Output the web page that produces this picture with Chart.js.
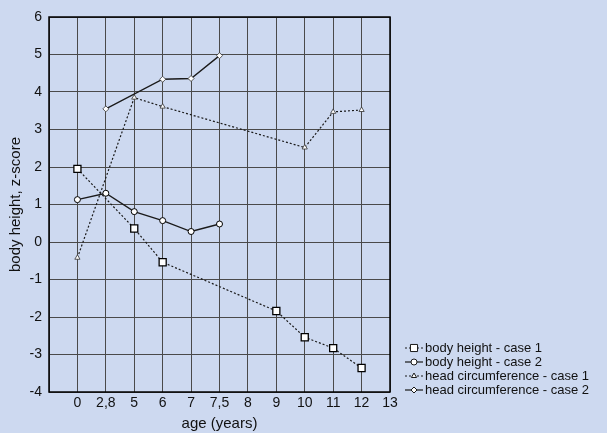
<!DOCTYPE html>
<html>
<head>
<meta charset="utf-8">
<script src="https://cdn.jsdelivr.net/npm/chart.js@4"></script>
<style>
  html, body { margin: 0; padding: 0; background: #cdd9f0; }
  #wrap { width: 607px; height: 433px; position: relative; }
</style>
</head>
<body>
<div id="wrap"><canvas id="zChart"></canvas></div>
<script>
// x axis categories (first slot is the empty left edge)
const ageLabels = ["", "0", "2,8", "5", "6", "7", "7,5", "8", "9", "10", "11", "12", "13"];

const heightCase1Ages = ["0", "5", "6", "9", "10", "11", "12"];
const heightCase1 = [1.95, 0.36, -0.54, -1.84, -2.54, -2.83, -3.36];

const heightCase2Ages = ["0", "2,8", "5", "6", "7", "7,5"];
const heightCase2 = [1.13, 1.30, 0.81, 0.57, 0.28, 0.48];

const headCase1Ages = ["0", "5", "6", "10", "11", "12"];
const headCase1 = [-0.42, 3.85, 3.61, 2.52, 3.47, 3.52];

const headCase2Ages = ["2,8", "6", "7", "7,5"];
const headCase2 = [3.55, 4.34, 4.36, 4.97];

const seriesNames = [
    "body height - case 1",
    "body height - case 2",
    "head circumference - case 1",
    "head circumference - case 2",
];

function pts(ages, vals) {
    return ages.map((a, i) => ({ x: a, y: vals[i] }));
}

const lineColor = "#1a1a1a";
const dotted = [2, 2];

// frame around plot + legend with line and marker
const framePlugin = {
    id: "frame",
    afterDraw(chart) {
        const ctx = chart.ctx;
        const a = chart.chartArea;
        ctx.save();
        ctx.strokeStyle = "#000";
        ctx.lineWidth = 1.5;
        ctx.strokeRect(a.left, a.top, a.right - a.left, a.bottom - a.top);

        ctx.font = "13px 'Liberation Sans', Arial, sans-serif";
        ctx.textBaseline = "middle";
        chart.data.datasets.forEach((ds, i) => {
            const y = 348 + i * 14;
            ctx.strokeStyle = lineColor;
            ctx.lineWidth = 1.2;
            ctx.setLineDash(ds.borderDash || []);
            ctx.beginPath();
            ctx.moveTo(405, y);
            ctx.lineTo(423, y);
            ctx.stroke();
            ctx.setLineDash([]);
            ctx.fillStyle = "#fff";
            ctx.strokeStyle = lineColor;
            ctx.lineWidth = 1;
            Chart.helpers.drawPoint(ctx, {
                pointStyle: ds.pointStyle,
                radius: ds.pointRadius,
                rotation: 0,
                borderWidth: 1,
            }, 414, y);
            ctx.fillStyle = "#111";
            ctx.fillText(ds.label, 425, y);
        });
        ctx.restore();
    },
};

const ctx = document.getElementById("zChart").getContext("2d");
Chart.defaults.font.family = "'Liberation Sans', Arial, sans-serif";
Chart.defaults.color = "#111";

new Chart(ctx, {
    type: "line",
    data: {
        labels: ageLabels,
        datasets: [
            {
                label: seriesNames[0],
                data: pts(heightCase1Ages, heightCase1),
                borderColor: lineColor,
                borderWidth: 1.2,
                borderDash: dotted,
                pointStyle: "rect",
                pointRadius: 5,
                pointBackgroundColor: "#fff",
                pointBorderColor: "#000",
                pointBorderWidth: 1.3,
            },
            {
                label: seriesNames[1],
                data: pts(heightCase2Ages, heightCase2),
                borderColor: lineColor,
                borderWidth: 1.3,
                pointStyle: "circle",
                pointRadius: 3,
                pointBackgroundColor: "#fff",
                pointBorderColor: "#000",
                pointBorderWidth: 1,
            },
            {
                label: seriesNames[2],
                data: pts(headCase1Ages, headCase1),
                borderColor: lineColor,
                borderWidth: 1.2,
                borderDash: dotted,
                pointStyle: "triangle",
                pointRadius: 3,
                pointBackgroundColor: "#fff",
                pointBorderColor: "#333",
                pointBorderWidth: 0.8,
            },
            {
                label: seriesNames[3],
                data: pts(headCase2Ages, headCase2),
                borderColor: lineColor,
                borderWidth: 1.3,
                pointStyle: "rectRot",
                pointRadius: 3,
                pointBackgroundColor: "#fff",
                pointBorderColor: "#333",
                pointBorderWidth: 0.8,
            },
        ],
    },
    options: {
        responsive: true,
        maintainAspectRatio: false,
        animation: false,
        layout: { padding: { left: 0, top: 17, right: 217, bottom: 0 } },
        plugins: {
            legend: { display: false },
            tooltip: { enabled: false },
        },
        scales: {
            x: {
                type: "category",
                offset: false,
                grid: { color: "#4a4a4a", lineWidth: 1, drawTicks: false },
                border: { display: false },
                ticks: { padding: 3, maxRotation: 0, autoSkip: false, font: { size: 14 }, color: "#111" },
                title: { display: true, text: "age (years)", font: { size: 15 }, color: "#111", padding: { top: 0, bottom: 0 } },
                afterFit(scale) { scale.height = 41; },
            },
            y: {
                min: -4,
                max: 6,
                ticks: { stepSize: 1, padding: 7, font: { size: 14 }, color: "#111" },
                grid: { color: "#4a4a4a", lineWidth: 1, drawTicks: false },
                border: { display: false },
                title: { display: true, text: "body height, z-score", font: { size: 15 }, color: "#111", padding: { top: 7, bottom: 0 } },
                afterFit(scale) { scale.width = 49; },
            },
        },
    },
    plugins: [framePlugin],
});
</script>
</body>
</html>
